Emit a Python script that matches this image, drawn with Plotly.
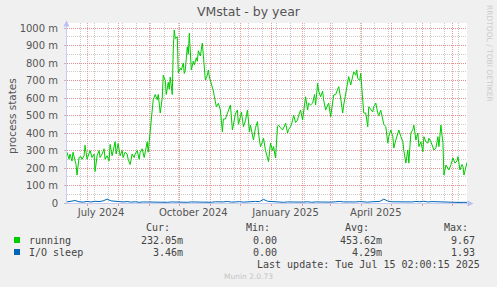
import plotly.graph_objects as go
import pandas as pd

# ---------------- data ----------------
START = "2024-06-11"
END = "2025-07-15"

run_days = [0, 2, 3, 5, 6, 8, 9, 10, 12, 14, 15, 17, 18, 20, 22, 23, 25, 27, 28, 30,
            32, 33, 35, 37, 38, 40, 42, 43, 45, 46, 48, 49, 51, 53, 55, 56, 58, 60, 61, 63,
            65, 67, 68, 70, 72, 73, 75, 77, 78, 80, 81, 83, 85, 86, 88, 90, 91, 92, 93, 95,
            96, 98, 99, 101, 102, 103, 105, 106, 107, 108, 110, 111, 113, 114, 116, 117, 118, 120, 121, 122,
            123, 124, 126, 127, 129, 130, 131, 133, 135, 136, 137, 138, 140, 141, 142, 143, 145, 146, 147, 148,
            149, 151, 153, 155, 156, 158, 160, 162, 163, 165, 166, 168, 170, 171, 173, 174, 176, 178, 180, 182,
            183, 185, 186, 188, 190, 191, 193, 195, 196, 198, 200, 201, 203, 205, 206, 208, 210, 211, 213, 215,
            217, 218, 220, 221, 223, 225, 226, 228, 230, 231, 233, 235, 236, 238, 240, 241, 243, 245, 247, 248,
            250, 251, 253, 255, 256, 258, 260, 261, 263, 265, 266, 268, 270, 271, 273, 275, 276, 278, 280, 281,
            283, 285, 286, 288, 289, 290, 292, 293, 295, 296, 298, 300, 301, 303, 305, 306, 308, 310, 311, 313,
            315, 316, 318, 320, 321, 323, 325, 326, 328, 330, 331, 333, 335, 336, 338, 340, 341, 343, 345, 346,
            348, 350, 351, 353, 355, 356, 358, 360, 361, 363, 365, 366, 368, 370, 371, 373, 375, 376, 378, 380,
            381, 383, 385, 387, 389, 390, 392, 394, 395, 396, 398, 399]
run_vals = [290, 250, 280, 240, 290, 240, 220, 160, 260, 265, 250, 270, 330, 250, 280, 300, 260, 280, 180, 270,
            300, 260, 280, 310, 250, 270, 240, 335, 270, 300, 350, 280, 340, 270, 300, 260, 290, 280, 250, 220,
            280, 260, 280, 300, 250, 290, 310, 260, 300, 350, 290, 430, 560, 590, 620, 590, 620, 560, 514, 600,
            730, 700, 620, 690, 650, 720, 620, 880, 989, 940, 950, 743, 770, 760, 800, 740, 760, 893, 850, 970,
            850, 760, 810, 790, 830, 810, 870, 840, 914, 850, 760, 703, 730, 760, 720, 700, 665, 640, 607, 580,
            550, 570, 531, 407, 480, 480, 514, 540, 560, 417, 457, 510, 531, 450, 493, 520, 436, 470, 531, 407,
            445, 400, 360, 430, 465, 400, 322, 350, 371, 300, 246, 236, 342, 300, 322, 257, 436, 445, 430, 417,
            440, 457, 400, 420, 436, 470, 503, 460, 474, 500, 531, 474, 520, 607, 531, 570, 560, 571, 620, 560,
            684, 640, 607, 640, 589, 531, 560, 571, 493, 560, 617, 620, 646, 665, 600, 514, 560, 627, 680, 722,
            674, 720, 750, 730, 760, 712, 700, 741, 589, 514, 514, 436, 550, 531, 520, 550, 571, 514, 500, 531,
            474, 450, 436, 342, 380, 417, 379, 314, 360, 400, 417, 380, 350, 300, 228, 303, 228, 400, 420, 445,
            360, 400, 322, 350, 293, 379, 350, 342, 370, 350, 320, 303, 314, 379, 322, 445, 342, 160, 217, 200,
            189, 220, 257, 228, 240, 265, 189, 220, 207, 160, 200, 232]

io_days = [0, 4, 8, 12, 16, 20, 24, 28, 32, 36, 40, 44, 48, 52, 56, 60, 64, 68, 72, 76,
           80, 84, 88, 92, 96, 100, 104, 108, 112, 116, 120, 124, 128, 132, 136, 140, 144, 148, 152, 156,
           160, 164, 168, 172, 176, 180, 184, 188, 192, 196, 200, 204, 208, 212, 216, 220, 224, 228, 232, 236,
           240, 244, 248, 252, 256, 260, 264, 268, 272, 276, 280, 284, 288, 292, 296, 300, 304, 308, 312, 316,
           320, 324, 328, 332, 336, 340, 344, 348, 352, 356, 360, 364, 368, 372, 376, 380, 384, 388, 392, 396, 399]
io_vals = [6, 8, 14, 7, 5, 9, 6, 10, 8, 12, 22, 12, 9, 10, 6, 8, 5, 7, 4, 6,
           5, 7, 4, 6, 5, 4, 6, 5, 7, 5, 4, 6, 5, 8, 5, 6, 4, 7, 5, 6,
           9, 5, 6, 8, 5, 7, 6, 9, 8, 21, 10, 8, 6, 5, 4, 6, 5, 4, 6, 5,
           7, 4, 6, 5, 8, 6, 5, 7, 9, 6, 5, 7, 6, 8, 6, 5, 7, 6, 9, 22,
           11, 7, 6, 8, 5, 7, 6, 9, 7, 10, 6, 8, 7, 5, 3, 3, 4, 3, 3, 4, 3.5]

y_tickvals = [0, 100, 200, 300, 400, 500, 600, 700, 800, 900, 1000]
y_ticktext = ["0", "100 m", "200 m", "300 m", "400 m", "500 m", "600 m", "700 m", "800 m", "900 m", "1000 m"]

x_label_dates = ["2024-07-15", "2024-10-15", "2025-01-15", "2025-04-15"]
x_label_text = ["July 2024", "October 2024", "January 2025", "April 2025"]

series_names = ["running", "I/O sleep"]
series_colors = ["#00CC00", "#0066B3"]
cur_vals = ["232.05m", "3.46m"]
min_vals = ["0.00", "0.00"]
avg_vals = ["453.62m", "4.29m"]
max_vals = ["9.67", "1.93"]

TITLE = "VMstat - by year"
Y_TITLE = "process states"
LAST_UPDATE = "Last update: Tue Jul 15 02:00:15 2025"
WATERMARK = "RRDTOOL / TOBI OETIKER"
FOOTER = "Munin 2.0.73"

# ---------------- geometry ----------------
W, H = 497, 287
PL, PR, PT, PB = 67, 467, 23, 203


def px(x):
    return (x - PL) / (PR - PL)


def py(y):
    return (PB - y) / (PB - PT)


start = pd.Timestamp(START)
run_x = start + pd.to_timedelta(run_days, unit="D")
io_x = start + pd.to_timedelta(io_days, unit="D")
month_starts = pd.date_range("2024-07-01", "2025-07-01", freq="MS")

MONO = "DejaVu Sans Mono"
SANS = "DejaVu Sans"
RED_GRID = "rgba(235,120,120,0.75)"
GRAY_GRID = "rgba(190,190,190,0.8)"
AXIS_COL = "#c9ccf2"

fig = go.Figure()
fig.add_trace(go.Scatter(x=run_x, y=run_vals, mode="lines",
                         line=dict(color=series_colors[0], width=1), showlegend=False,
                         xaxis="x", yaxis="y"))
fig.add_trace(go.Scatter(x=io_x, y=io_vals, mode="lines",
                         line=dict(color=series_colors[1], width=1), showlegend=False,
                         xaxis="x2", yaxis="y"))

yrange_top = 1000 * (PB - PT) / (PB - 28)

fig.update_layout(
    width=W, height=H, autosize=False,
    margin=dict(l=PL, r=W - PR, t=PT, b=H - PB, pad=0),
    paper_bgcolor="#f0f0f0", plot_bgcolor="#ffffff",
    showlegend=False,
    xaxis=dict(type="date", range=[START, END], tickmode="array", tickvals=month_starts,
               showticklabels=False, showgrid=True, gridcolor=RED_GRID, griddash="1px,1px",
               gridwidth=1, ticks="outside", ticklen=2, tickcolor=RED_GRID,
               minor=dict(dtick=14 * 86400000, tick0="2024-06-24", showgrid=True,
                          gridcolor=GRAY_GRID, griddash="1px,1px", gridwidth=1, ticks=""),
               showline=True, linecolor=AXIS_COL, linewidth=1, zeroline=False, fixedrange=True),
    xaxis2=dict(type="date", range=[START, END], overlaying="x", anchor="y", side="bottom",
                tickmode="array", tickvals=x_label_dates, ticktext=x_label_text,
                showgrid=False, showline=False, zeroline=False, ticks="",
                tickfont=dict(family=SANS, size=10, color="#555555"), ticklabelstandoff=2),
    yaxis=dict(range=[0, yrange_top], tickmode="array", tickvals=y_tickvals, ticktext=y_ticktext,
               showgrid=True, gridcolor=RED_GRID, griddash="1px,1px", gridwidth=1,
               minor=dict(dtick=50, tick0=0, showgrid=True, gridcolor=GRAY_GRID,
                          griddash="1px,1px", gridwidth=1),
               ticks="outside", ticklen=2, tickcolor="#bbbbbb", ticklabelstandoff=4,
               tickfont=dict(family=SANS, size=10, color="#555555"),
               showline=True, linecolor=AXIS_COL, linewidth=1, zeroline=False, fixedrange=True),
)

ann = []
ann.append(dict(text=TITLE, x=px(248.5), y=py(11), xref="paper", yref="paper",
                showarrow=False, xanchor="center", yanchor="middle",
                font=dict(family=SANS, size=12.5, color="#555555")))
ann.append(dict(text=Y_TITLE, x=px(12), y=py(116), xref="paper", yref="paper",
                showarrow=False, textangle=-90, xanchor="center", yanchor="middle",
                font=dict(family=SANS, size=10.5, color="#555555")))
ann.append(dict(text=WATERMARK, x=px(489), y=py(53), xref="paper", yref="paper",
                showarrow=False, textangle=90, xanchor="center", yanchor="middle",
                font=dict(family=SANS, size=7.5, color="#cccccc")))
ann.append(dict(text=FOOTER, x=px(248.5), y=py(276), xref="paper", yref="paper",
                showarrow=False, xanchor="center", yanchor="middle",
                font=dict(family=SANS, size=7.5, color="#c4c4c4")))

mono_font = dict(family=MONO, size=10, color="#444444")
headers = [("Cur:", 172), ("Min:", 272), ("Avg:", 371), ("Max:", 470)]
for h, xr in headers:
    ann.append(dict(text=h, x=px(xr), y=py(227), xref="paper", yref="paper", showarrow=False,
                    xanchor="right", yanchor="middle", font=mono_font))

row_y = [240, 252]
for i in range(2):
    ann.append(dict(text=series_names[i], x=px(27), y=py(row_y[i]), xref="paper", yref="paper",
                    showarrow=False, xanchor="left", yanchor="middle", font=mono_font))
    for vals, xr in [(cur_vals, 185), (min_vals, 279), (avg_vals, 384), (max_vals, 477)]:
        ann.append(dict(text=vals[i], x=px(xr), y=py(row_y[i]), xref="paper", yref="paper",
                        showarrow=False, xanchor="right", yanchor="middle", font=mono_font))

ann.append(dict(text=LAST_UPDATE, x=px(482), y=py(264), xref="paper", yref="paper",
                showarrow=False, xanchor="right", yanchor="middle", font=mono_font))

shapes = []
for i in range(2):
    shapes.append(dict(type="rect", xref="paper", yref="paper",
                       x0=px(14), x1=px(20), y0=py(row_y[i] + 3), y1=py(row_y[i] - 3),
                       fillcolor=series_colors[i], line=dict(width=0)))

ARROW_COL = "#b9bff0"
# up arrow on y axis
shapes.append(dict(type="path", xref="paper", yref="paper",
                   path=f"M {px(63.5)},{py(26.5)} L {px(69.5)},{py(26.5)} L {px(66.5)},{py(20.5)} Z",
                   fillcolor=ARROW_COL, line=dict(width=0)))
# right arrow on x axis
shapes.append(dict(type="path", xref="paper", yref="paper",
                   path=f"M {px(467.5)},{py(200.5)} L {px(467.5)},{py(206.5)} L {px(473.5)},{py(203.5)} Z",
                   fillcolor=ARROW_COL, line=dict(width=0)))

fig.update_layout(annotations=ann, shapes=shapes)

fig.write_html("out.html")
